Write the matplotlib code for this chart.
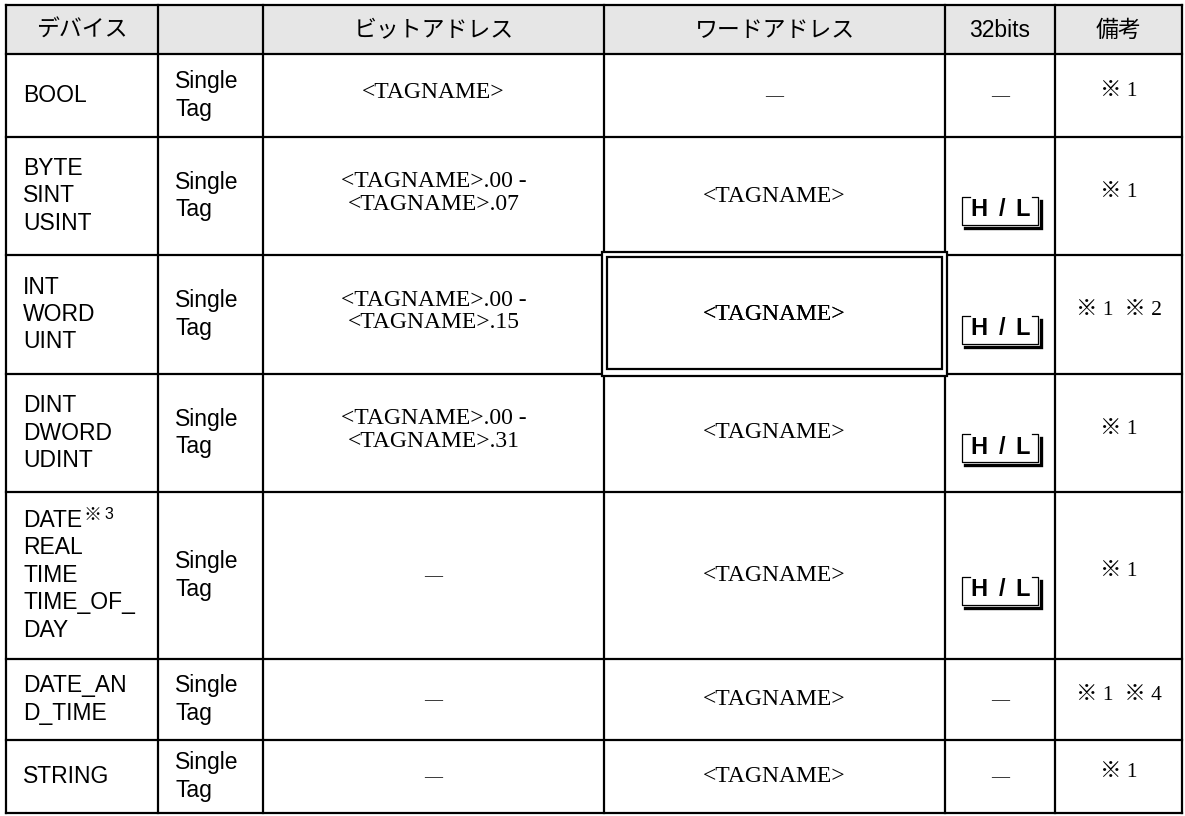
import matplotlib
matplotlib.use("Agg")
import matplotlib.pyplot as plt
from matplotlib.patches import Rectangle
from matplotlib.lines import Line2D

# ---------------- data ----------------
headers = ["デバイス", "", "ビットアドレス", "ワードアドレス", "32bits", "備考"]
devices = [["BOOL"], ["BYTE", "SINT", "USINT"], ["INT", "WORD", "UINT"],
           ["DINT", "DWORD", "UDINT"], ["DATE", "REAL", "TIME", "TIME_OF_", "DAY"],
           ["DATE_AN", "D_TIME"], ["STRING"]]
device_sup = ["", "", "", "", "※ 3", "", ""]
kinds = [["Single", "Tag"]] * 7
bit_addr = [["<TAGNAME>"],
            ["<TAGNAME>.00 -", "<TAGNAME>.07"],
            ["<TAGNAME>.00 -", "<TAGNAME>.15"],
            ["<TAGNAME>.00 -", "<TAGNAME>.31"],
            ["—"], ["—"], ["—"]]
word_addr = ["—", "<TAGNAME>", "<TAGNAME>", "<TAGNAME>", "<TAGNAME>", "<TAGNAME>", "<TAGNAME>"]
bits32 = [False, True, True, True, True, False, False]
hl_label = ["H", "/", "L"]
notes = ["※ 1", "※ 1", "※ 1  ※ 2", "※ 1", "※ 1", "※ 1  ※ 4", "※ 1"]
highlight_row = 2  # row whose word-address cell has a double frame

# ---------------- layout ----------------
W, H = 1185, 816
col_edges = [6, 158, 263, 604, 945, 1055, 1182]
row_edges = [5, 54, 137, 255, 374, 492, 659, 740, 813]

SANS = ["Liberation Sans", "Noto Sans CJK JP"]
JP = ["Noto Sans CJK JP", "DejaVu Sans"]
SERIF = ["Liberation Serif", "Noto Sans CJK JP"]
NOTE = ["Liberation Serif", "Noto Sans CJK JP"]

fig = plt.figure(figsize=(W / 100, H / 100), dpi=100)
ax = fig.add_axes([0, 0, 1, 1])
ax.set_xlim(0, W)
ax.set_ylim(H, 0)
ax.axis("off")

# header background
ax.add_patch(Rectangle((col_edges[0], row_edges[0]), col_edges[-1] - col_edges[0],
                       row_edges[1] - row_edges[0], facecolor="#e6e6e6", edgecolor="none", zorder=0))

LW = 1.6
for x in col_edges:
    ax.add_line(Line2D([x, x], [row_edges[0], row_edges[-1]], color="black", lw=LW,
                       solid_capstyle="projecting", zorder=3))
for y in row_edges:
    ax.add_line(Line2D([col_edges[0], col_edges[-1]], [y, y], color="black", lw=LW,
                       solid_capstyle="projecting", zorder=3))


def draw_lines(x, cy, lines, spacing, **kw):
    n = len(lines)
    arts = []
    for i, s in enumerate(lines):
        y = cy + (i - (n - 1) / 2) * spacing
        arts.append(ax.text(x, y, s, va="center", zorder=5, **kw))
    return arts


# headers
hy = (row_edges[0] + row_edges[1]) / 2 + 1
for j, h in enumerate(headers):
    cx = (col_edges[j] + col_edges[j + 1]) / 2
    fam = SANS if h.isascii() else JP
    ax.text(cx, hy, h, ha="center", va="center", fontsize=16.5, family=fam, zorder=5)

for i in range(len(devices)):
    top, bot = row_edges[i + 1], row_edges[i + 2]
    cy = (top + bot) / 2
    # device names
    arts = draw_lines(col_edges[0] + 17, cy, devices[i], 27.5, ha="left",
                      fontsize=16.5, family=SANS)
    if device_sup[i]:
        mark, num = device_sup[i].split(" ")
        a1 = ax.annotate(mark, xy=(1, 1.12), xycoords=arts[0], xytext=(1, 0),
                         textcoords="offset points", ha="left", va="top",
                         fontsize=13, family=JP, zorder=5)
        ax.annotate(num, xy=(1, 0.95), xycoords=a1, xytext=(2, 0),
                    textcoords="offset points", ha="left", va="top",
                    fontsize=11.5, family=SANS, zorder=5)
    # kind
    draw_lines(col_edges[1] + 17, cy, kinds[i], 27.5, ha="left", fontsize=16.5, family=SANS)
    # bit address
    cx = (col_edges[2] + col_edges[3]) / 2
    if bit_addr[i] == ["—"]:
        ax.text(cx, cy + 1, "—", ha="center", va="center", fontsize=13, family=SERIF, zorder=5)
    else:
        draw_lines(cx, cy - 3, bit_addr[i], 23, ha="center", fontsize=17, family=SERIF)
    # word address
    cx = (col_edges[3] + col_edges[4]) / 2
    if word_addr[i] == "—":
        ax.text(cx, cy + 1, "—", ha="center", va="center", fontsize=13, family=SERIF, zorder=5)
    else:
        ax.text(cx, cy, word_addr[i], ha="center", va="center", fontsize=17, family=SERIF, zorder=5)
    # 32 bits
    cx = (col_edges[4] + col_edges[5]) / 2
    if bits32[i]:
        iy = cy + 15
        w2, h2 = 38, 14
        l, r, t, b = cx - w2, cx + w2, iy - h2, iy + h2
        thin = dict(color="black", lw=0.9, zorder=5)
        ax.add_line(Line2D([l + 8, l, l, r, r, r - 6], [t, t, b, b, t, t], **thin))
        ax.add_line(Line2D([l + 3, r + 3, r + 3], [b + 3, b + 3, t + 4], color="black",
                           lw=2.4, solid_joinstyle="miter", zorder=5))
        for ch, dx in zip(hl_label, [-21, 2, 23]):
            ax.text(cx + dx, iy - 1, ch, ha="center", va="center", fontsize=17,
                    fontweight="bold", family=SANS, zorder=6)
    else:
        ax.text(cx, cy + 1, "—", ha="center", va="center", fontsize=13, family=SERIF, zorder=5)
    # notes
    cx = (col_edges[5] + col_edges[6]) / 2
    ax.text(cx, cy - 4, notes[i], ha="center", va="center", fontsize=15.5, family=NOTE, zorder=5)

# double frame on highlighted cell
top, bot = row_edges[highlight_row + 1], row_edges[highlight_row + 2]
l, r = col_edges[3], col_edges[4]
ax.add_patch(Rectangle((l - 2, top - 3), r - l + 4, bot - top + 5, facecolor="white",
                       edgecolor="black", lw=LW, zorder=4))
ax.add_patch(Rectangle((l + 3, top + 2), r - l - 6, bot - top - 7, facecolor="none",
                       edgecolor="black", lw=LW, zorder=4))
ax.text((l + r) / 2, (top + bot) / 2, word_addr[highlight_row], ha="center", va="center",
        fontsize=17, family=SERIF, zorder=6)

fig.savefig("out.png", dpi=100)
